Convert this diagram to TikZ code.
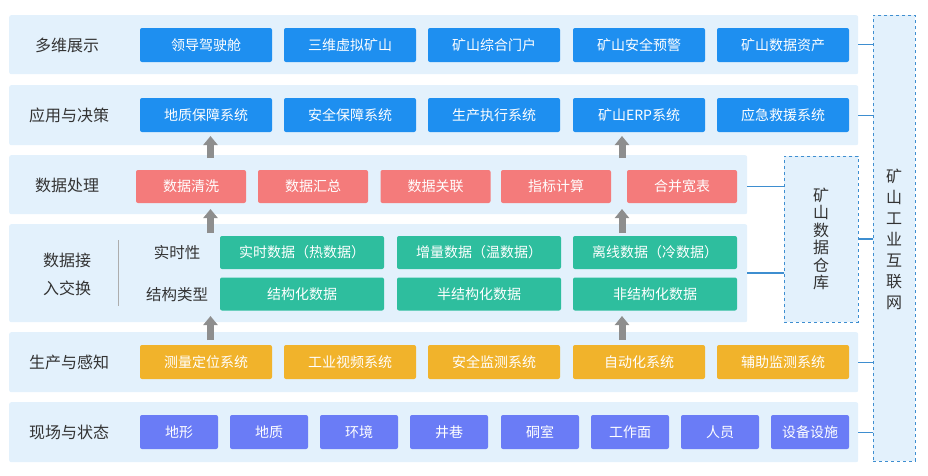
\documentclass[tikz,border=0pt]{standalone}
\usepackage{fontspec}
\setmainfont{Noto Sans CJK SC}
\usetikzlibrary{arrows.meta}
\definecolor{layerbg}{HTML}{E3F1FC}
\definecolor{cblue}{HTML}{1E8FF0}
\definecolor{cred}{HTML}{F47B7B}
\definecolor{cgreen}{HTML}{2EBE9E}
\definecolor{corange}{HTML}{F1B32B}
\definecolor{cpurple}{HTML}{6A7CF6}
\definecolor{cline}{HTML}{3E8ED0}
\definecolor{carrow}{HTML}{8E8E8E}
\definecolor{ctext}{HTML}{333333}
\tikzset{
  layer/.style={fill=layerbg, rounded corners=2pt, inner sep=0pt, anchor=north west},
  boxbase/.style={rounded corners=2pt, inner sep=0pt, text=white, font=\fontsize{14}{14}\selectfont, minimum height=34pt},
  bluebox/.style={boxbase, fill=cblue, minimum width=132pt},
  orangebox/.style={boxbase, fill=corange, minimum width=132pt},
  redbox/.style={boxbase, fill=cred, minimum width=110pt, minimum height=33pt},
  greenbox/.style={boxbase, fill=cgreen, minimum width=164pt, minimum height=33pt},
  purplebox/.style={boxbase, fill=cpurple, minimum width=78pt},
  lab/.style={text=ctext, font=\fontsize{16}{16}\selectfont, inner sep=0pt},
  sublab/.style={text=ctext, font=\fontsize{15.5}{15.5}\selectfont, inner sep=0pt},
  dashbox/.style={draw=cline, dashed, fill=layerbg, inner sep=0pt, anchor=north west, line width=0.8pt},
  vtext/.style={text=ctext, font=\fontsize{16}{21}\selectfont, align=center, inner sep=0pt},
  conn/.style={draw=cline, line width=1.2pt},
  uparrow/.style={draw=carrow, line width=7pt, -{Triangle[width=14pt,length=9pt]}, shorten >=0pt},
}
\begin{document}
\begin{tikzpicture}[x=1pt,y=-1pt]
\useasboundingbox (0,0) rectangle (928,475);
% layers
\node[layer, minimum width=849pt, minimum height=59pt] (L1) at (9,15) {};
\node[layer, minimum width=849pt, minimum height=60pt] (L2) at (9,85) {};
\node[layer, minimum width=738pt, minimum height=59pt] (L3) at (9,155) {};
\node[layer, minimum width=738pt, minimum height=98pt] (L4) at (9,224) {};
\node[layer, minimum width=849pt, minimum height=60pt] (L5) at (9,332) {};
\node[layer, minimum width=849pt, minimum height=60pt] (L6) at (9,402) {};
% right boxes
\node[dashbox, minimum width=74pt, minimum height=166pt] (WH) at (784,156) {};
\node[vtext, font=\fontsize{16}{17.5}\selectfont] (WHt) at (821,239) {矿\\山\\数\\据\\仓\\库};
\node[dashbox, minimum width=42pt, minimum height=446pt] (NET) at (873,15) {};
\node[vtext] (NETt) at (894,239) {矿\\山\\工\\业\\互\\联\\网};
% labels
\node[lab] (t1) at (67,45) {多维展示};
\node[lab] (t2) at (69,115) {应用与决策};
\node[lab] (t3) at (67,185) {数据处理};
\node[lab, align=center, font=\fontsize{16}{28}\selectfont] (t4) at (67,274) {数据接\\入交换};
\node[lab] (t5) at (69,362) {生产与感知};
\node[lab] (t6) at (69,432) {现场与状态};
\node[sublab] (s1) at (177,253) {实时性};
\node[sublab] (s2) at (177,295) {结构类型};
\coordinate (sepT) at (118,240);
\coordinate (sepB) at (118,306);
\draw[draw=ctext!40, line width=0.6pt] (sepT) -- (sepB);
% layer 1
\node[bluebox] (a1) at (206,45) {领导驾驶舱};
\node[bluebox] (a2) at (350,45) {三维虚拟矿山};
\node[bluebox] (a3) at (494,45) {矿山综合门户};
\node[bluebox] (a4) at (639,45) {矿山安全预警};
\node[bluebox] (a5) at (783,45) {矿山数据资产};
% layer 2
\node[bluebox] (b1) at (206,115) {地质保障系统};
\node[bluebox] (b2) at (350,115) {安全保障系统};
\node[bluebox] (b3) at (494,115) {生产执行系统};
\node[bluebox] (b4) at (639,115) {矿山ERP系统};
\node[bluebox] (b5) at (783,115) {应急救援系统};
% layer 3
\node[redbox] (c1) at (191,186.5) {数据清洗};
\node[redbox] (c2) at (313,186.5) {数据汇总};
\node[redbox] (c3) at (435.5,186.5) {数据关联};
\node[redbox] (c4) at (556,186.5) {指标计算};
\node[redbox] (c5) at (682,186.5) {合并宽表};
% layer 4
\node[greenbox] (d1) at (302,252.5) {实时数据（热数据）};
\node[greenbox] (d2) at (479,252.5) {增量数据（温数据）};
\node[greenbox] (d3) at (655,252.5) {离线数据（冷数据）};
\node[greenbox] (e1) at (302,294) {结构化数据};
\node[greenbox] (e2) at (479,294) {半结构化数据};
\node[greenbox] (e3) at (655,294) {非结构化数据};
% layer 5
\node[orangebox] (f1) at (206,362) {测量定位系统};
\node[orangebox] (f2) at (350,362) {工业视频系统};
\node[orangebox] (f3) at (494,362) {安全监测系统};
\node[orangebox] (f4) at (639,362) {自动化系统};
\node[orangebox] (f5) at (783,362) {辅助监测系统};
% layer 6
\node[purplebox] (g1) at (179,432) {地形};
\node[purplebox] (g2) at (269,432) {地质};
\node[purplebox] (g3) at (359,432) {环境};
\node[purplebox] (g4) at (449,432) {井巷};
\node[purplebox] (g5) at (540,432) {硐室};
\node[purplebox] (g6) at (630,432) {工作面};
\node[purplebox] (g7) at (720,432) {人员};
\node[purplebox] (g8) at (810,432) {设备设施};
% arrows
\coordinate (p1s) at (210.5,158); \coordinate (p1e) at (210.5,136);
\coordinate (p2s) at (622,158);   \coordinate (p2e) at (622,136);
\coordinate (p3s) at (210.5,233); \coordinate (p3e) at (210.5,209);
\coordinate (p4s) at (622,233);   \coordinate (p4e) at (622,209);
\coordinate (p5s) at (210.5,340); \coordinate (p5e) at (210.5,316);
\coordinate (p6s) at (622,340);   \coordinate (p6e) at (622,316);
\foreach \i in {1,...,6} {\draw[uparrow] (p\i s) -- (p\i e);}
% connectors
\draw[conn] (L1.east) -- (L1.east -| NET.west);
\draw[conn] (L2.east) -- (L2.east -| NET.west);
\draw[conn] (L5.east) -- (L5.east -| NET.west);
\draw[conn] (L6.east) -- (L6.east -| NET.west);
\draw[conn] (c5.east -| L3.east) -- (c5.east -| WH.west);
\coordinate (l4c) at (747,273);
\draw[conn] (l4c) -- (l4c -| WH.west);
\coordinate (whc) at (858,239);
\draw[conn] (whc) -- (whc -| NET.west);
\end{tikzpicture}
\end{document}
